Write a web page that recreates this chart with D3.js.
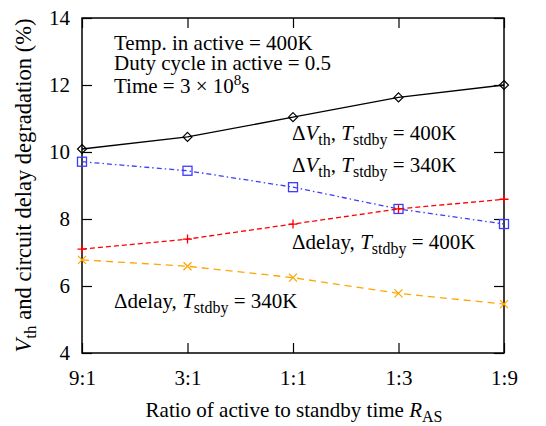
<!DOCTYPE html>
<html>
<head>
<meta charset="utf-8">
<script src="https://cdn.jsdelivr.net/npm/d3@7"></script>
<style>
  body { margin: 0; background: #fff; }
</style>
</head>
<body>
<div id="vis"></div>
<script>
// categories and series values
var ratios = ['9:1', '3:1', '1:1', '1:3', '1:9'];
var vthStdby400 = [10.09, 10.45, 11.04, 11.63, 12.0];
var vthStdby340 = [9.71, 9.44, 8.95, 8.30, 7.85];
var delayStdby400 = [7.1, 7.4, 7.85, 8.3, 8.59];
var delayStdby340 = [6.78, 6.59, 6.25, 5.78, 5.46];
var yTicks = [4, 6, 8, 10, 12, 14];

var width = 546, height = 426;
var margin = { top: 18, left: 82, bottom: 73, right: 42 };
var w = width - margin.left - margin.right,
    h = height - margin.top - margin.bottom;

var serif = 'Liberation Serif';
var fontSize = 21;

var svg = d3.select('#vis').append('svg')
  .attr('width', width)
  .attr('height', height)
  .attr('font-family', serif);

var g = svg.append('g')
  .attr('transform', 'translate(' + margin.left + ',' + margin.top + ')');

var x = d3.scalePoint().domain(ratios).range([0, w]);
var y = d3.scaleLinear().domain([4, 14]).range([h, 0]);

var series = [
  { values: vthStdby400, color: '#000', dash: null, marker: 'diamond' },
  { values: vthStdby340, color: '#3c3cff', dash: '5,3,1.5,3', marker: 'square' },
  { values: delayStdby400, color: '#ff0000', dash: '5,3', marker: 'plus' },
  { values: delayStdby340, color: '#ffa500', dash: '7,5', marker: 'cross' }
];

// axes with inward ticks, mirrored on top and right
var tickLen = 10;

var yAxis = g.append('g').call(d3.axisLeft(y).tickValues(yTicks).tickSize(-tickLen).tickPadding(12));
var yAxisR = g.append('g').attr('transform', 'translate(' + w + ',0)')
  .call(d3.axisRight(y).tickValues(yTicks).tickSize(-tickLen).tickFormat(''));
var xAxis = g.append('g').attr('transform', 'translate(0,' + h + ')')
  .call(d3.axisBottom(x).tickSize(-tickLen).tickPadding(17));
var xAxisT = g.append('g')
  .call(d3.axisTop(x).tickSize(-tickLen).tickFormat(''));

[yAxis, yAxisR, xAxis, xAxisT].forEach(function (a) {
  a.attr('font-family', serif).attr('font-size', fontSize);
  a.select('.domain').remove();
  a.selectAll('line').attr('stroke', '#000').attr('stroke-width', 1.2);
  a.selectAll('text').attr('font-family', serif).attr('font-size', fontSize).attr('fill', '#000');
});

g.append('rect')
  .attr('width', w).attr('height', h)
  .attr('fill', 'none').attr('stroke', '#000').attr('stroke-width', 1.5);

var line = d3.line()
  .x(function (d, i) { return x(ratios[i]); })
  .y(function (d) { return y(d); });

series.forEach(function (s) {
  g.append('path')
    .datum(s.values)
    .attr('d', line)
    .attr('fill', 'none')
    .attr('stroke', s.color)
    .attr('stroke-width', 1.3)
    .attr('stroke-dasharray', s.dash);

  var m = g.append('g').selectAll('g')
    .data(s.values)
    .enter()
    .append('g')
    .attr('transform', function (d, i) { return 'translate(' + x(ratios[i]) + ',' + y(d) + ')'; });

  if (s.marker === 'diamond') {
    m.append('path').attr('d', 'M0,-4.5L4.5,0L0,4.5L-4.5,0Z')
      .attr('fill', 'none').attr('stroke', s.color).attr('stroke-width', 1.2);
  } else if (s.marker === 'square') {
    m.append('rect').attr('x', -4.5).attr('y', -4.5).attr('width', 9).attr('height', 9)
      .attr('fill', 'none').attr('stroke', s.color).attr('stroke-width', 1.3);
  } else if (s.marker === 'plus') {
    m.append('path').attr('d', 'M-4.5,0H4.5M0,-4.5V4.5')
      .attr('stroke', s.color).attr('stroke-width', 1.3);
  } else {
    m.append('path').attr('d', 'M-4,-4L4,4M-4,4L4,-4')
      .attr('stroke', s.color).attr('stroke-width', 1.3);
  }
});

// annotations
function label(xp, yp, parts, size) {
  size = size || fontSize;
  var t = svg.append('text')
    .attr('x', xp).attr('y', yp)
    .attr('font-family', serif)
    .attr('font-size', size)
    .attr('fill', '#000');
  parts.forEach(function (p) {
    var ts = t.append('tspan').text(p.t);
    if (p.i) ts.attr('font-style', 'italic');
    if (p.sub) ts.attr('dy', 5).attr('font-size', size * 0.76);
    if (p.sup) ts.attr('dy', -8).attr('font-size', size * 0.72);
    if (p.back) ts.attr('dy', p.back);
  });
  return t;
}

label(114, 50, [{ t: 'Temp. in active = 400K' }]);
label(114, 70, [{ t: 'Duty cycle in active = 0.5' }]);
label(114, 93, [{ t: 'Time = 3 × 10' }, { t: '8', sup: true }, { t: 's', back: 8 }]);

label(292, 140, [{ t: 'Δ' }, { t: 'V', i: true }, { t: 'th', sub: true }, { t: ', ', back: -5 },
  { t: 'T', i: true }, { t: 'stdby', sub: true }, { t: ' = 400K', back: -5 }]);
label(292, 172, [{ t: 'Δ' }, { t: 'V', i: true }, { t: 'th', sub: true }, { t: ', ', back: -5 },
  { t: 'T', i: true }, { t: 'stdby', sub: true }, { t: ' = 340K', back: -5 }]);
label(292, 249, [{ t: 'Δdelay, ' }, { t: 'T', i: true }, { t: 'stdby', sub: true }, { t: ' = 400K', back: -5 }]);
label(114, 308, [{ t: 'Δdelay, ' }, { t: 'T', i: true }, { t: 'stdby', sub: true }, { t: ' = 340K', back: -5 }]);

// axis titles
label(0, 417, [{ t: 'Ratio of active to standby time ' }, { t: 'R', i: true }, { t: 'AS', sub: true }])
  .attr('x', margin.left + w / 2 + 1).attr('text-anchor', 'middle');

label(0, 0, [{ t: 'V', i: true }, { t: 'th', sub: true }, { t: ' and circuit delay degradation (%)', back: -5 }], 22.5)
  .attr('text-anchor', 'middle')
  .attr('transform', 'translate(31,' + (margin.top + h / 2) + ') rotate(-90)');
</script>
</body>
</html>
